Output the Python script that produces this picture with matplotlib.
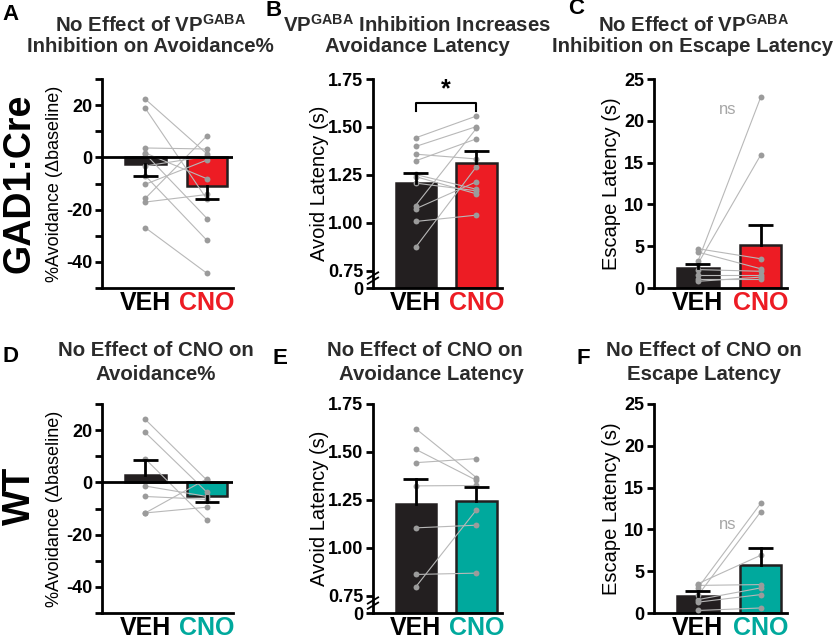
import matplotlib
matplotlib.use("Agg")
import matplotlib.pyplot as plt
import numpy as np

plt.rcParams['font.family'] = ['Liberation Sans', 'DejaVu Sans']
plt.rcParams['mathtext.fontset'] = 'custom'
plt.rcParams['mathtext.rm'] = 'Liberation Sans'

groups = ['VEH', 'CNO']

# GAD1:Cre row -- paired values (VEH -> CNO)
a_veh = [22.3, 18.8, 3.6, 1.7, 1.3, -3.3, -7.0, -10.3, -15.7, -17.1, -26.9]
a_cno = [1.3, -16.1, 3.2, -8.2, -23.4, 0.4, -31.8, -1.0, 8.3, -14.2, -44.4]
a_mean = [-2.7, -11.0]
a_sem = [4.5, 5.1]

b_veh = [1.443, 1.398, 1.358, 1.323, 1.252, 1.241, 1.207, 1.090, 1.073, 1.007, 0.872]
b_cno = [1.557, 1.502, 1.333, 1.438, 1.175, 1.151, 1.167, 1.493, 1.214, 1.040, 1.293]
b_mean = [1.210, 1.3125]
b_sem = [0.049, 0.060]

c_veh = [3.2, 2.9, 4.7, 4.3, 2.2, 1.5, 1.1, 0.8]
c_cno = [22.8, 15.9, 3.5, 2.3, 2.0, 1.5, 1.1, 1.3]
c_mean = [2.4, 5.1]
c_sem = [0.5, 2.4]

# WT row
d_veh = [24.1, 19.1, 9.0, -1.4, -5.4, -11.7, -11.7]
d_cno = [0.8, -3.8, -14.4, -5.4, -6.5, -9.5, 1.4]
d_mean = [2.7, -5.3]
d_sem = [5.9, 2.4]

e_veh = [1.622, 1.514, 1.444, 1.323, 1.104, 0.861, 0.795]
e_cno = [1.366, 1.352, 1.465, 1.325, 1.118, 0.868, 1.198]
e_mean = [1.230, 1.243]
e_sem = [0.128, 0.075]

f_veh = [3.0, 2.1, 3.5, 3.3, 1.6, 1.3, 0.3]
f_cno = [13.1, 12.1, 6.9, 3.4, 3.0, 2.2, 0.6]
f_mean = [2.0, 5.75]
f_sem = [0.6, 2.05]

BLACK = '#231f20'
RED = '#ed1c24'
TEAL = '#00a99d'
DOT = '#9b9b9b'
LINE = '#b8b8b8'
TITLE = '#2b2b2b'

W, H = 837, 639
fig = plt.figure(figsize=(W / 100, H / 100), dpi=100)


def make_axes(x0, y0, x1, y1):
    return fig.add_axes([x0 / W, 1 - y1 / H, (x1 - x0) / W, (y1 - y0) / H])


def panel(ax, veh, cno, mean, sem, color, kind):
    x = np.arange(2)
    ax.set_xlim(-0.7, 1.42)
    if kind == 'pct':
        ax.set_ylim(-50, 30)
        bottom = 0
        ax.set_yticks(np.arange(-50, 31, 10))
        ax.set_yticklabels(['' if v % 20 else str(v) for v in range(-50, 31, 10)])
    elif kind == 'lat':
        bottom = 0.66
        ax.set_ylim(bottom, 1.75)
        ax.set_yticks([bottom, 0.75, 1.0, 1.25, 1.5, 1.75])
        ax.set_yticklabels(['0', '0.75', '1.00', '1.25', '1.50', '1.75'])
        # axis break mark
        for dy in (0.035, 0.06):
            ax.plot([-0.04, 0.04], [dy - 0.015, dy + 0.015], transform=ax.transAxes,
                    color='k', lw=1.3, clip_on=False, zorder=6)
    else:
        ax.set_ylim(0, 25)
        bottom = 0
        ax.set_yticks(np.arange(0, 26, 5))

    heights = [m - bottom for m in mean]
    ax.bar(x, heights, bottom=bottom, width=0.66, color=[BLACK, color],
           edgecolor=BLACK, linewidth=1.8, zorder=1)
    for v, c in zip(veh, cno):
        ax.plot(x, [v, c], color=LINE, lw=0.8, zorder=2)
    ax.scatter(np.zeros(len(veh)), veh, s=18, color=DOT, zorder=3, linewidths=0)
    ax.scatter(np.ones(len(cno)), cno, s=18, color=DOT, zorder=3, linewidths=0)
    # one-sided SEM bars (away from zero)
    cap = 0.2
    for i in range(2):
        end = mean[i] + (sem[i] if mean[i] >= 0 else -sem[i])
        ax.plot([x[i], x[i]], [mean[i], end], color='k', lw=2, zorder=4)
        ax.plot([x[i] - cap, x[i] + cap], [end, end], color='k', lw=2,
                solid_capstyle='butt', zorder=4)
    if kind == 'pct':
        ax.axhline(0, color='k', lw=2, zorder=5)

    ax.spines['top'].set_visible(False)
    ax.spines['right'].set_visible(False)
    for s in ('left', 'bottom'):
        ax.spines[s].set_linewidth(2)
    ax.tick_params(axis='y', width=2, length=5, pad=2, labelsize=13)
    ax.tick_params(axis='x', length=0, pad=2, labelsize=18)
    for lab in ax.get_yticklabels():
        lab.set_fontweight('bold')
    ax.set_xticks(x)
    ax.set_xticklabels(groups, fontweight='bold')
    ax.get_xticklabels()[1].set_color(color)


axA = make_axes(102, 79, 233, 288)
axB = make_axes(373, 79, 502, 288)
axC = make_axes(654, 79, 787, 288)
axD = make_axes(102, 404, 233, 613)
axE = make_axes(373, 404, 502, 613)
axF = make_axes(654, 404, 787, 613)

panel(axA, a_veh, a_cno, a_mean, a_sem, RED, 'pct')
panel(axB, b_veh, b_cno, b_mean, b_sem, RED, 'lat')
panel(axC, c_veh, c_cno, c_mean, c_sem, RED, 'esc')
panel(axD, d_veh, d_cno, d_mean, d_sem, TEAL, 'pct')
panel(axE, e_veh, e_cno, e_mean, e_sem, TEAL, 'lat')
panel(axF, f_veh, f_cno, f_mean, f_sem, TEAL, 'esc')

for ax in (axA, axD):
    ax.set_ylabel('%Avoidance (\u0394baseline)', fontsize=13)
    ax.yaxis.set_label_coords(-0.30, 0.5)
for ax in (axB, axE):
    ax.set_ylabel('Avoid Latency (s)', fontsize=14.5)
    ax.yaxis.set_label_coords(-0.34, 0.5)
for ax in (axC, axF):
    ax.set_ylabel('Escape Latency (s)', fontsize=14.5)
    ax.yaxis.set_label_coords(-0.25, 0.5)

# significance
axB.plot([0, 0, 1, 1], [1.585, 1.623, 1.623, 1.585], color='k', lw=1.5)
axB.text(0.5, 1.635, '*', ha='center', va='bottom', fontsize=18, fontweight='bold')
axC.text(0.47, 21.3, 'ns', ha='center', va='center', fontsize=12, color='#a6a6a6')
axF.text(0.47, 10.6, 'ns', ha='center', va='center', fontsize=12, color='#a6a6a6')

# titles
gaba = r'VP$^{\mathregular{GABA}}$'
titles = [
    (150, 25, 'No Effect of ' + gaba, 150, 47, 'Inhibition on Avoidance%'),
    (417, 25, gaba + ' Inhibition Increases', 417, 47, 'Avoidance Latency'),
    (693, 25, 'No Effect of ' + gaba, 693, 47, 'Inhibition on Escape Latency'),
    (156, 350, 'No Effect of CNO on', 156, 375, 'Avoidance%'),
    (425, 350, 'No Effect of CNO on', 431, 375, 'Avoidance Latency'),
    (704, 350, 'No Effect of CNO on', 704, 375, 'Escape Latency'),
]
for x1, y1, t1, x2, y2, t2 in titles:
    fig.text(x1 / W, 1 - y1 / H, t1, ha='center', va='center', fontsize=14.7,
             fontweight='bold', color=TITLE)
    fig.text(x2 / W, 1 - y2 / H, t2, ha='center', va='center', fontsize=14.7,
             fontweight='bold', color=TITLE)

letters = [('A', 11, 15), ('B', 274, 11), ('C', 576, 9),
           ('D', 10, 357), ('E', 280, 358), ('F', 583, 358)]
for s, x, y in letters:
    fig.text(x / W, 1 - y / H, s, ha='center', va='center', fontsize=16,
             fontweight='bold', color='k')

fig.text(20 / W, 1 - 183 / H, 'GAD1:Cre', rotation=90, ha='center', va='center',
         fontsize=27, fontweight='bold')
fig.text(20 / W, 1 - 496 / H, 'WT', rotation=90, ha='center', va='center',
         fontsize=27, fontweight='bold')

fig.savefig('out.png', dpi=100)
